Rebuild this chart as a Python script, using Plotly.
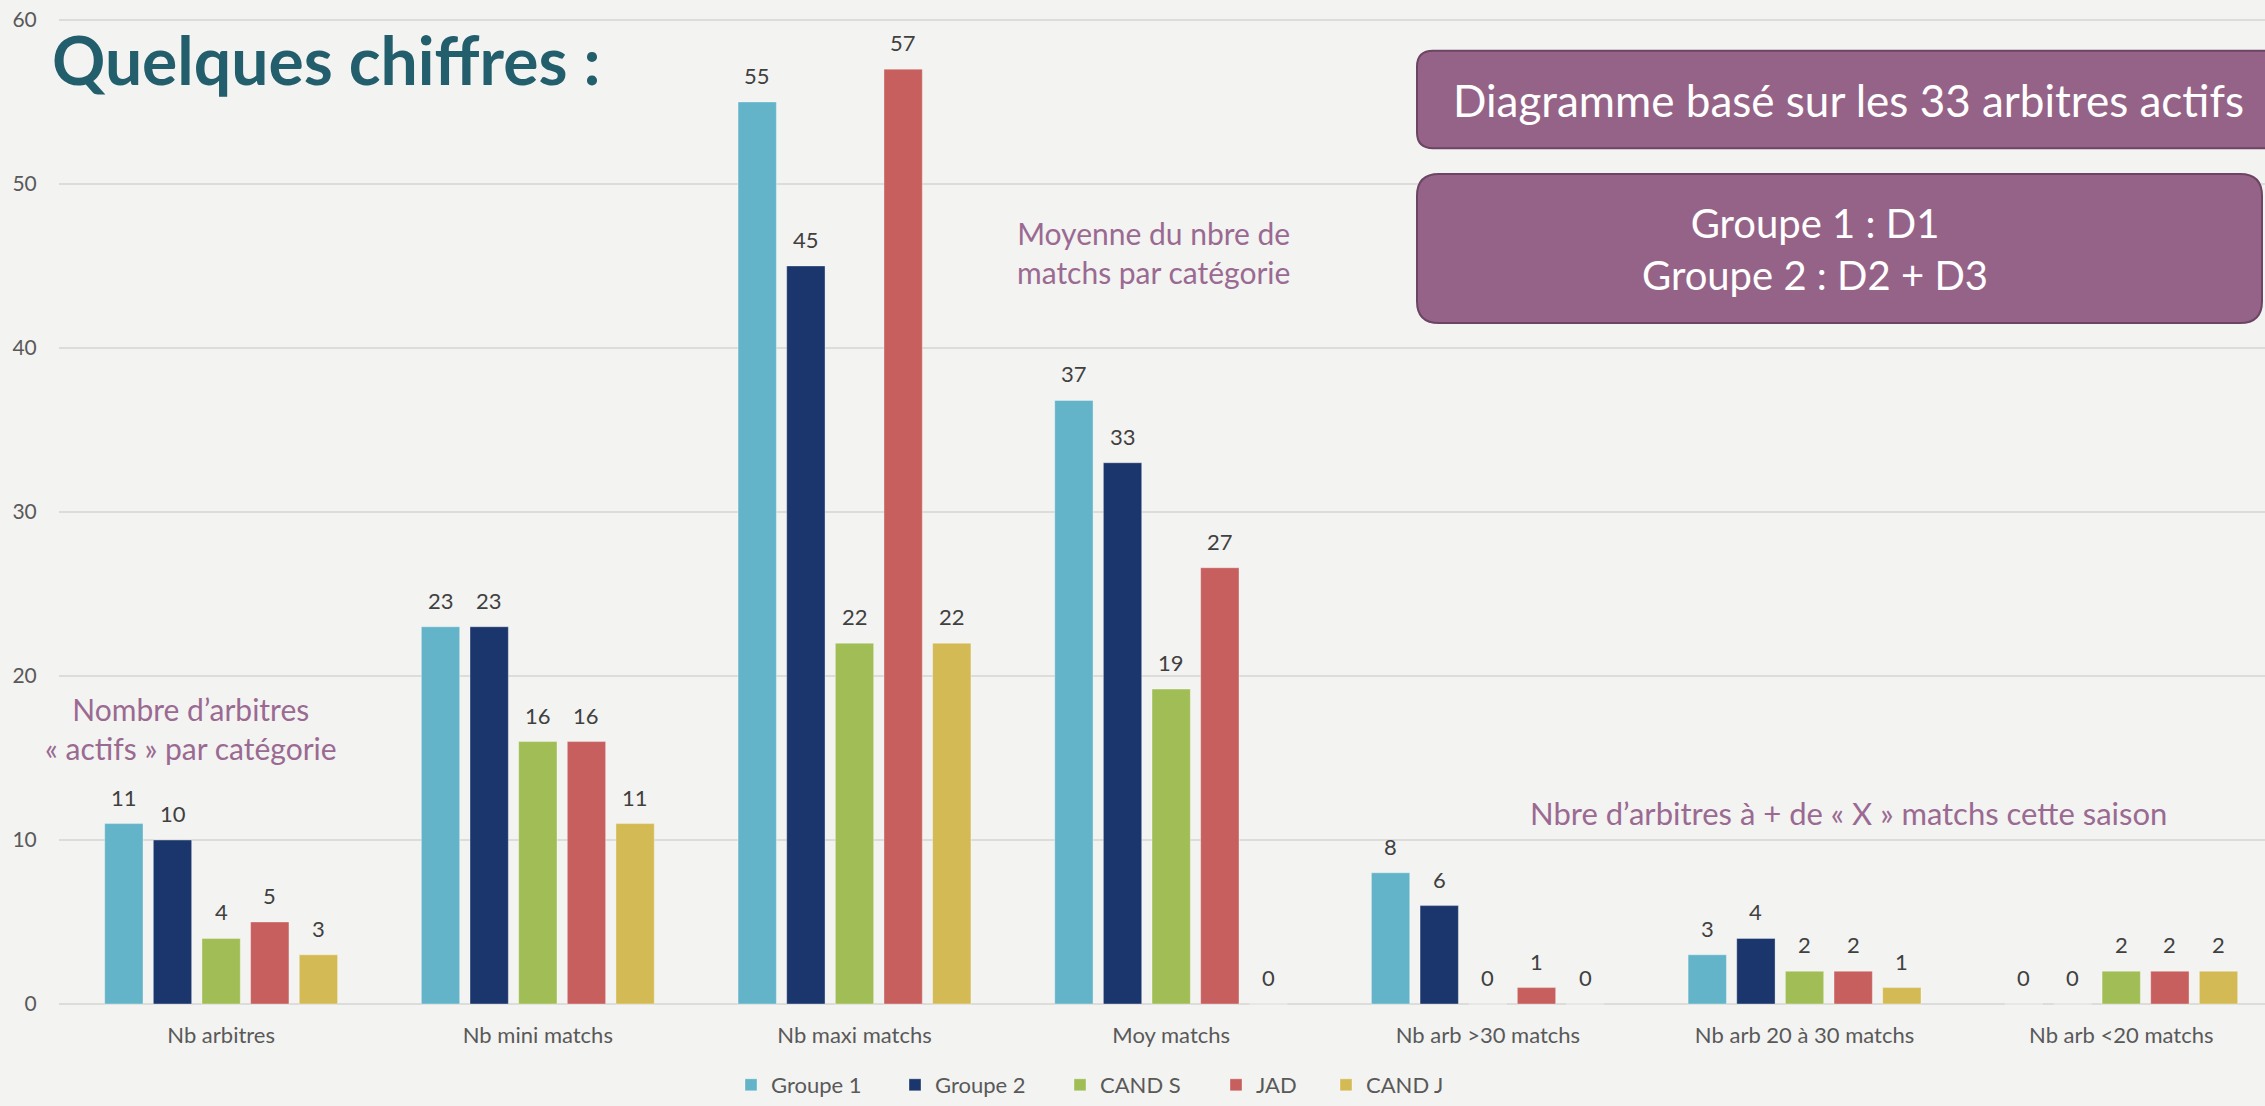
import plotly.graph_objects as go

# ---------------- data ----------------
categories = ["Nb arbitres", "Nb mini matchs", "Nb maxi matchs", "Moy matchs",
              "Nb arb >30 matchs", "Nb arb 20 à 30 matchs", "Nb arb <20 matchs"]
series_names = ["Groupe 1", "Groupe 2", "CAND S", "JAD", "CAND J"]
groupe1 = [11, 23, 55, 36.8, 8, 3, 0]
groupe2 = [10, 23, 45, 33.0, 6, 4, 0]
cand_s = [4, 16, 22, 19.2, 0, 2, 2]
jad = [5, 16, 57, 26.6, 1, 2, 2]
cand_j = [3, 11, 22, 0, 0, 1, 2]
y_ticks = [0, 10, 20, 30, 40, 50, 60]

title_text = "Quelques chiffres :"
box1_text = "Diagramme basé sur les 33 arbitres actifs"
box2_text = "Groupe 1 : D1<br>Groupe 2 : D2 + D3"
note_actifs = "Nombre d’arbitres<br>« actifs » par catégorie"
note_moy = "Moyenne du nbre de<br>matchs par catégorie"
note_x = "Nbre d’arbitres à + de « X » matchs cette saison"

# ---------------- style ----------------
colors = ["#63B4C8", "#1B366C", "#A0BE55", "#C65F5E", "#D4BA55"]
legend_widths = [119, 120, 111, 65, 90]
BG = "#F3F3F1"
GRID = "#DCDCDA"
PURPLE_TXT = "#9A6A92"
BOX_FILL = "#966388"
BOX_LINE = "#6B4563"
FONT = "Lato"

W, H = 2265, 1106          # page (viewport) size; body margin removed below
ML, MR, MT, MB = 59, 0, 10, 94   # plot area in page pixels
PW, PH = W - ML - MR, H - MT - MB
UNIT = 16.5                # pixels per y unit
Y_RANGE = [-(H - MB - 1010) / UNIT, (1010 - MT) / UNIT]
BARGAP, GROUPGAP = 0.232, 0.212


def px(x):
    return (x - ML) / PW


def py(y):
    return (H - MB - y) / PH


def rrect(x0, y0, x1, y1, r):
    return (f"M {px(x0 + r)},{py(y0)} L {px(x1 - r)},{py(y0)} "
            f"Q {px(x1)},{py(y0)} {px(x1)},{py(y0 + r)} "
            f"L {px(x1)},{py(y1 - r)} Q {px(x1)},{py(y1)} {px(x1 - r)},{py(y1)} "
            f"L {px(x0 + r)},{py(y1)} Q {px(x0)},{py(y1)} {px(x0)},{py(y1 - r)} "
            f"L {px(x0)},{py(y0 + r)} Q {px(x0)},{py(y0)} {px(x0 + r)},{py(y0)} Z")


all_series = [groupe1, groupe2, cand_s, jad, cand_j]

fig = go.Figure()
for name, vals, col, lw in zip(series_names, all_series, colors, legend_widths):
    fig.add_trace(go.Bar(
        name=name, x=categories, y=vals,
        marker=dict(color=col, line=dict(color="rgba(255,255,255,0.35)", width=1)),
        legendwidth=lw,
        hoverinfo="x+y+name",
    ))

# value labels above each bar (positioned on the category scale)
n = len(all_series)
slot = (1 - BARGAP) / n
annotations = []
for si, vals in enumerate(all_series):
    for ci, v in enumerate(vals):
        annotations.append(dict(
            x=ci - (1 - BARGAP) / 2 + slot * (si + 0.5), y=v,
            xref="x", yref="y", text=f"{v:.0f}", showarrow=False,
            yanchor="bottom", yshift=11,
            font=dict(family=FONT, size=22, color="#404040"),
        ))

annotations += [
    dict(x=px(50), y=py(60), xref="paper", yref="paper", text=f"<b>{title_text}</b>",
         showarrow=False, xanchor="left", yanchor="middle",
         font=dict(family=FONT, size=66, color="#235E6C", weight=900)),
    dict(x=px(191), y=py(733), xref="paper", yref="paper", text=note_actifs,
         showarrow=False, xanchor="center", yanchor="middle", align="center",
         font=dict(family=FONT, size=30, color=PURPLE_TXT)),
    dict(x=px(1153), y=py(254), xref="paper", yref="paper", text=note_moy,
         showarrow=False, xanchor="center", yanchor="middle", align="center",
         font=dict(family=FONT, size=30, color=PURPLE_TXT)),
    dict(x=px(1849), y=py(818), xref="paper", yref="paper", text=note_x,
         showarrow=False, xanchor="center", yanchor="middle",
         font=dict(family=FONT, size=31, color=PURPLE_TXT)),
    dict(x=px(1849), y=py(101), xref="paper", yref="paper", text=box1_text,
         showarrow=False, xanchor="center", yanchor="middle",
         font=dict(family=FONT, size=44, color="white")),
    dict(x=px(1815), y=py(250), xref="paper", yref="paper", text=box2_text,
         showarrow=False, xanchor="center", yanchor="middle", align="center",
         font=dict(family=FONT, size=40, color="white")),
]

shapes = [
    dict(type="path", xref="paper", yref="paper", path=rrect(1417, 51, 2300, 149, 16),
         fillcolor=BOX_FILL, line=dict(color=BOX_LINE, width=2)),
    dict(type="path", xref="paper", yref="paper", path=rrect(1417, 175, 2262, 325, 22),
         fillcolor=BOX_FILL, line=dict(color=BOX_LINE, width=2)),
]

fig.update_layout(
    width=W, height=H,
    margin=dict(l=ML, r=MR, t=MT, b=MB, pad=0),
    paper_bgcolor=BG, plot_bgcolor=BG,
    barmode="group", bargap=BARGAP, bargroupgap=GROUPGAP,
    font=dict(family=FONT, color="#595959"),
    showlegend=True,
    legend=dict(orientation="h", x=px(731), xanchor="left", y=py(1092), yanchor="middle",
                font=dict(family=FONT, size=22, color="#595959"),
                bgcolor="rgba(0,0,0,0)", traceorder="normal"),
    xaxis=dict(type="category", range=[-0.512, 6.454], showgrid=False,
               ticks="outside", ticklen=10, tickcolor="rgba(0,0,0,0)",
               tickfont=dict(family=FONT, size=22, color="#595959"),
               showline=False, fixedrange=True),
    yaxis=dict(range=Y_RANGE, tickvals=y_ticks, showgrid=True, gridcolor=GRID, gridwidth=2,
               zeroline=True, zerolinecolor=GRID, zerolinewidth=2,
               ticks="outside", ticklen=17, tickcolor="rgba(0,0,0,0)",
               ticklabeloverflow="allow",
               tickfont=dict(family=FONT, size=21, color="#595959"),
               showline=False, fixedrange=True),
    annotations=annotations,
    shapes=shapes,
)

page_css = ("document.body.style.margin='0';"
            "document.body.style.background='%s';"
            "document.documentElement.style.overflow='hidden';" % BG)
fig.write_html("out.html", post_script=page_css, config={"displayModeBar": False})
